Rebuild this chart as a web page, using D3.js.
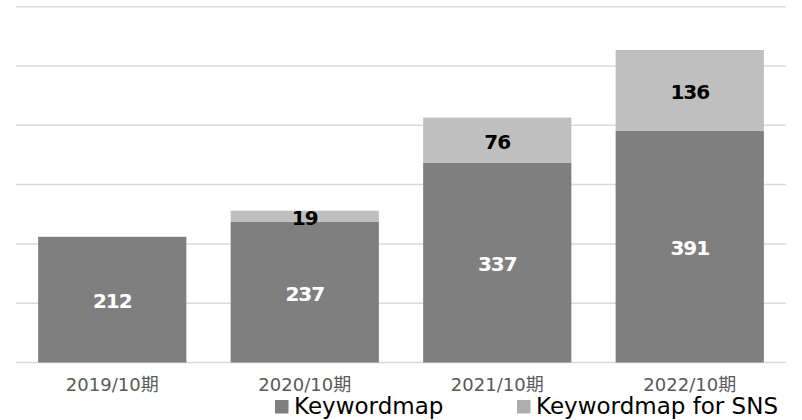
<!DOCTYPE html>
<html>
<head>
<meta charset="utf-8">
<script src="https://cdn.jsdelivr.net/npm/d3@7"></script>
<style>
  body { margin: 0; background: #fff; }
  svg { display: block; }
</style>
</head>
<body>
<svg id="chart" width="802" height="420"></svg>
<script>
// data
let periods = ["2019/10期", "2020/10期", "2021/10期", "2022/10期"];
let keywordmap = [212, 237, 337, 391];
let keywordmapSns = [0, 19, 76, 136];
let seriesNames = ["Keywordmap", "Keywordmap for SNS"];
let yTicks = [0, 100, 200, 300, 400, 500, 600];

let svg = d3.select("#chart");

let x = d3.scaleBand().domain(periods).range([16, 786]).paddingInner(0.23).paddingOuter(0.115);
let y = d3.scaleLinear().domain([0, 600]).range([362.5, 6.7]);

let colors = ["#7f7f7f", "#bfbfbf"];

// gridlines
svg.append("g")
    .selectAll("line")
    .data(yTicks)
    .join("line")
    .attr("x1", 16)
    .attr("x2", 786)
    .attr("y1", d => y(d))
    .attr("y2", d => y(d))
    .attr("stroke", "#d9d9d9")
    .attr("stroke-width", 1.5);

// stacked rows
let rows = periods.map((p, i) => ({period: p, a: keywordmap[i], b: keywordmapSns[i]}));
let stack = d3.stack().keys(["a", "b"]);
let layers = stack(rows);

let layer = svg.append("g")
    .selectAll("g")
    .data(layers)
    .join("g")
    .attr("fill", (d, i) => colors[i]);

layer.selectAll("rect")
    .data(d => d.filter(s => s[1] - s[0] > 0))
    .join("rect")
    .attr("x", d => x(d.data.period))
    .attr("width", x.bandwidth())
    .attr("y", d => y(d[1]))
    .attr("height", d => y(d[0]) - y(d[1]));

// value labels
layers.forEach((l, li) => {
    svg.append("g")
        .selectAll("text")
        .data(l.filter(s => s[1] - s[0] > 0))
        .join("text")
        .attr("x", d => x(d.data.period) + x.bandwidth() / 2)
        .attr("y", d => (y(d[0]) + y(d[1])) / 2 + 8.5)
        .attr("text-anchor", "middle")
        .attr("font-family", "DejaVu Sans, Verdana, sans-serif")
        .attr("font-weight", "bold")
        .attr("font-size", 20)
        .attr("letter-spacing", -1)
        .attr("fill", li === 0 ? "#ffffff" : "#000000")
        .text(d => d[1] - d[0]);
});

// category axis
let xAxis = d3.axisBottom(x).tickSize(0).tickPadding(0);
let ax = svg.append("g")
    .attr("transform", "translate(0,377)")
    .call(xAxis);
ax.select(".domain").remove();
ax.selectAll("text")
    .attr("dy", null)
    .attr("y", 14)
    .attr("font-family", "DejaVu Sans, 'Noto Sans CJK JP', sans-serif")
    .attr("font-size", 18)
    .attr("fill", "#595959");

// legend
let legendX = [275, 517];
let legendColors = ["#7f7f7f", "#adadad"];
let legend = svg.append("g")
    .selectAll("g")
    .data(seriesNames)
    .join("g")
    .attr("transform", (d, i) => `translate(${legendX[i]},400)`);
legend.append("rect")
    .attr("width", 13.5)
    .attr("height", 13.5)
    .attr("fill", (d, i) => legendColors[i]);
legend.append("text")
    .attr("x", 19)
    .attr("y", 13.5)
    .attr("font-family", "DejaVu Sans, Verdana, sans-serif")
    .attr("font-size", 23)
    .attr("fill", "#000")
    .text(d => d);
</script>
</body>
</html>
